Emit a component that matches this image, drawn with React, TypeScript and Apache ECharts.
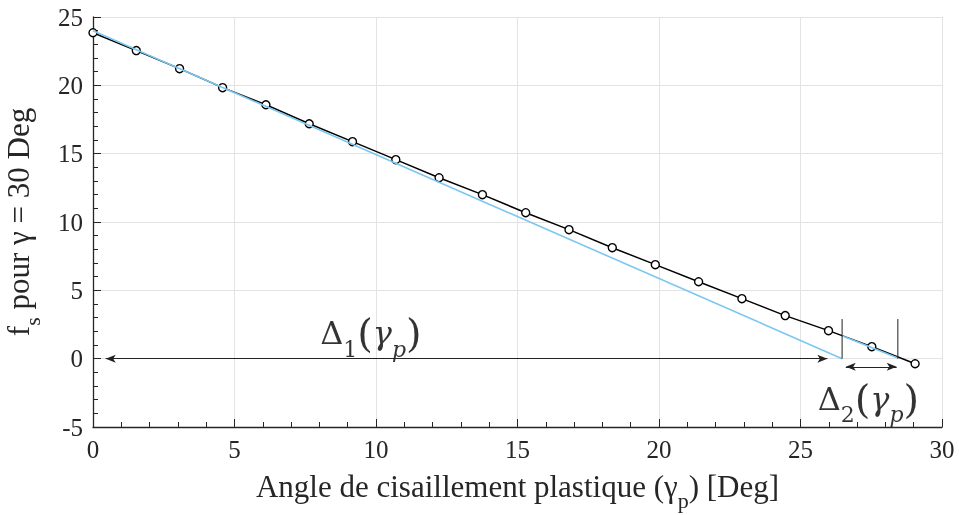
import React, { useEffect, useRef } from "react";
import * as echarts from "echarts";

const xValues = [0, 1.53, 3.06, 4.58, 6.11, 7.64, 9.17, 10.7, 12.23, 13.76, 15.29, 16.82, 18.35, 19.87, 21.4, 22.93, 24.46, 25.99, 27.52, 29.05];
const fsValues = [23.85, 22.54, 21.22, 19.83, 18.58, 17.19, 15.88, 14.56, 13.24, 12.0, 10.68, 9.44, 8.12, 6.88, 5.63, 4.39, 3.15, 2.05, 0.88, -0.37];
const blueLine = [[0, 24.0], [26.47, 0]];
const blueSegment = [[26.47, 1.68], [28.44, 0.05]];
const delta1Arrow = [[0.45, 0], [25.95, 0]];
const delta2Arrow = [[26.6, -0.6], [28.4, -0.6]];
const vLine1 = [[26.47, 0], [26.47, 2.9]];
const vLine2 = [[28.44, 0], [28.44, 2.9]];
const delta1LabelPos = [9.82, 1.85];
const delta2LabelPos = [27.4, -2.95];

const SERIF = "'Liberation Serif', 'Times New Roman', serif";
const MATH = "'DejaVu Serif', 'Liberation Serif', serif";

export default function App() {
  const ref = useRef<HTMLDivElement>(null);
  useEffect(() => {
    if (!ref.current) return;
    const chart = echarts.init(ref.current, undefined, { renderer: "svg" });
    const blackData = xValues.map((x, i) => [x, fsValues[i]]);
    const arrowLine = (pts: number[][]) => ({
      type: "line",
      data: [],
      silent: true,
      markLine: {
        silent: true,
        symbol: ["arrow", "arrow"],
        symbolSize: [6, 10],
        label: { show: false },
        lineStyle: { color: "#222", width: 1, type: "solid" },
        emphasis: { disabled: true },
        data: [[{ coord: pts[0] }, { coord: pts[1] }]],
      },
    });
    const deltaRich = {
      d: { fontFamily: MATH, fontSize: 32, color: "#000", lineHeight: 44 },
      n: { fontFamily: MATH, fontSize: 22, color: "#000", lineHeight: 54, verticalAlign: "bottom" },
      p: { fontFamily: MATH, fontSize: 40, color: "#000", fontWeight: 200, lineHeight: 44 },
      g: { fontFamily: MATH, fontStyle: "italic", fontSize: 32, color: "#000", lineHeight: 44 },
      s: { fontFamily: MATH, fontStyle: "italic", fontSize: 22, color: "#000", lineHeight: 54, verticalAlign: "bottom" },
    };
    const labelSeries = (pos: number[], idx: string) => ({
      type: "scatter",
      symbolSize: 0,
      silent: true,
      data: [pos],
      label: {
        show: true,
        position: "inside",
        formatter: `{d|Δ}{n|${idx}}{p|(}{g|γ}{s|p}{p|)}`,
        rich: deltaRich,
      },
    });
    const titleRich = {
      a: { fontFamily: SERIF, fontSize: 31, color: "#262626", lineHeight: 32 },
      s: { fontFamily: SERIF, fontSize: 22, color: "#262626", lineHeight: 50, verticalAlign: "bottom" },
    };
    chart.setOption({
      animation: false,
      grid: { left: 93, right: 17, top: 17, bottom: 88, containLabel: false, outerBoundsMode: "none" },
      xAxis: {
        type: "value",
        min: 0,
        max: 30,
        interval: 5,
        name: "{a|Angle de cisaillement plastique (γ}{s|p}{a|) [Deg]}",
        nameLocation: "middle",
        nameGap: 34,
        nameTextStyle: { rich: titleRich },
        axisLine: { onZero: false, lineStyle: { color: "#262626", width: 1.3 } },
        axisTick: { inside: true, length: 8, lineStyle: { color: "#262626" } },
        minorTick: { show: true, splitNumber: 5, length: 5, lineStyle: { color: "#262626" } },
        axisLabel: { fontFamily: SERIF, fontSize: 25, color: "#262626", margin: 10 },
        splitLine: { show: true, lineStyle: { color: "#e3e3e3", width: 1 } },
      },
      yAxis: {
        type: "value",
        min: -5,
        max: 25,
        interval: 5,
        name: "{a|f}{s|s}{a| pour γ = 30 Deg}",
        nameLocation: "middle",
        nameGap: 50,
        nameRotate: 90,
        nameTextStyle: { rich: titleRich },
        axisLine: { show: true, onZero: false, lineStyle: { color: "#262626", width: 1.3 } },
        axisTick: { show: true, inside: true, length: 8, lineStyle: { color: "#262626" } },
        minorTick: { show: true, splitNumber: 5, length: 5, lineStyle: { color: "#262626" } },
        axisLabel: { fontFamily: SERIF, fontSize: 25, color: "#262626", margin: 10 },
        splitLine: { show: true, lineStyle: { color: "#e3e3e3", width: 1 } },
      },
      series: [
        {
          type: "line",
          data: blackData,
          symbol: "circle",
          symbolSize: 8,
          showSymbol: true,
          itemStyle: { color: "#ffffff", borderColor: "#000", borderWidth: 1.4 },
          lineStyle: { color: "#000", width: 1.5 },
          silent: true,
          z: 2,
        },
        {
          type: "line",
          data: blueLine,
          symbol: "none",
          lineStyle: { color: "#7cc6f2", width: 1.6 },
          silent: true,
          z: 3,
        },
        {
          type: "line",
          data: blueSegment,
          symbol: "none",
          lineStyle: { color: "#7cc6f2", width: 1.6 },
          silent: true,
          z: 3,
        },
        {
          type: "line",
          data: vLine1,
          symbol: "none",
          lineStyle: { color: "#222", width: 1 },
          silent: true,
          z: 4,
        },
        {
          type: "line",
          data: vLine2,
          symbol: "none",
          lineStyle: { color: "#222", width: 1 },
          silent: true,
          z: 4,
        },
        arrowLine(delta1Arrow),
        arrowLine(delta2Arrow),
        labelSeries(delta1LabelPos, "1"),
        labelSeries(delta2LabelPos, "2"),
      ],
    });
    return () => chart.dispose();
  }, []);
  return <div ref={ref} style={{ position: "fixed", left: 0, top: 0, width: 959, height: 515 }} />;
}
